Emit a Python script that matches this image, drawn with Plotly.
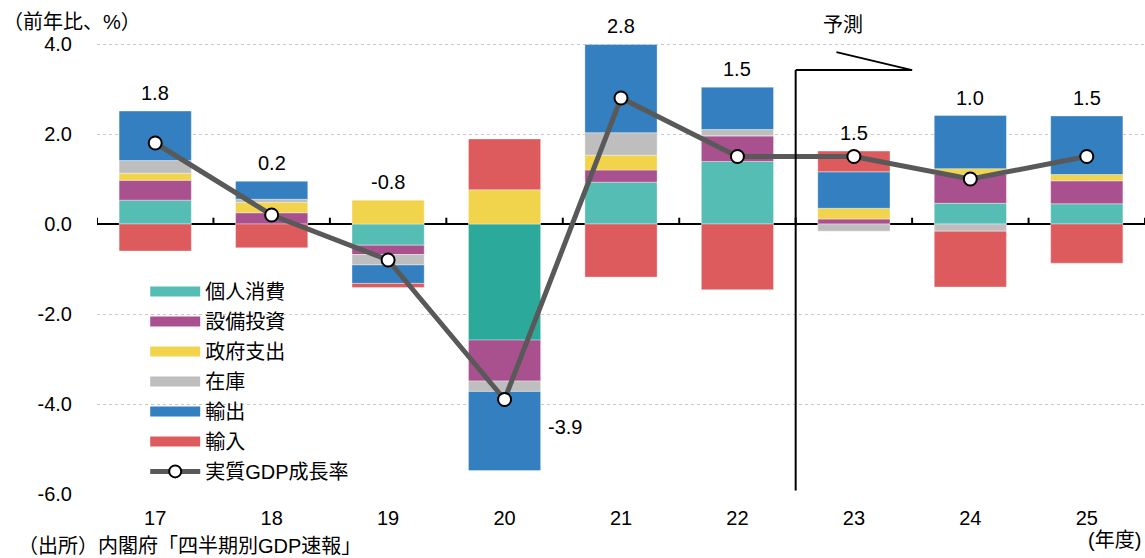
import plotly.graph_objects as go

years = ["17", "18", "19", "20", "21", "22", "23", "24", "25"]
consumption = [0.53, 0.0, -0.47, -2.58, 0.93, 1.39, 0.0, 0.46, 0.45]
investment = [0.44, 0.25, -0.21, -0.91, 0.27, 0.57, 0.11, 0.64, 0.51]
government = [0.16, 0.23, 0.53, 0.76, 0.33, 0.0, 0.24, 0.13, 0.14]
inventory = [0.28, 0.07, -0.23, -0.23, 0.50, 0.14, -0.16, -0.16, 0.0]
exports = [1.10, 0.40, -0.41, -1.76, 1.96, 0.94, 0.81, 1.18, 1.30]
imports = [-0.60, -0.53, -0.09, 1.13, -1.18, -1.46, 0.46, -1.24, -0.87]
gdp = [1.8, 0.2, -0.8, -3.9, 2.8, 1.5, 1.5, 1.0, 1.5]

y_tickvals = [4, 2, 0, -2, -4, -6]
y_ticktext = ["4.0", "2.0", "0.0", "-2.0", "-4.0", "-6.0"]

names = ["個人消費", "設備投資", "政府支出", "在庫", "輸出", "輸入"]
series = [consumption, investment, government, inventory, exports, imports]
colors = ["#55BDB4", "#A8518E", "#F2D34C", "#BEBEBE", "#337FBF", "#DD5B5C"]
consumption_colors = ["#2BAA9C" if y == "20" else colors[0] for y in years]

FONT = "Liberation Sans, Arial, Noto Sans CJK JP, sans-serif"
FS = 20

fig = go.Figure()

for i, (nm, vals, col) in enumerate(zip(names, series, colors)):
    mcol = consumption_colors if i == 0 else col
    fig.add_trace(go.Bar(
        x=years, y=vals, name=nm,
        marker=dict(color=mcol, line=dict(color="rgba(255,255,255,0.6)", width=0.6)),
        width=0.62, showlegend=False, hoverinfo="skip"))

fig.add_trace(go.Scatter(
    x=years, y=gdp, mode="lines+markers", name="実質GDP成長率",
    line=dict(color="#595959", width=5),
    marker=dict(size=13, color="white", line=dict(color="black", width=2)),
    showlegend=False))

# legend proxies
for i, (nm, col) in enumerate(zip(names, colors)):
    fig.add_trace(go.Scatter(x=[None], y=[None], mode="lines", name=nm,
                             line=dict(color=col, width=13), legendgroup=str(i)))
fig.add_trace(go.Scatter(x=[None], y=[None], mode="lines+markers", name="実質GDP成長率",
                         line=dict(color="#595959", width=5),
                         marker=dict(size=12, color="white", line=dict(color="black", width=2)),
                         legendgroup="gdp"))

# value labels
pos_top = [sum(max(s[k], 0) for s in series) for k in range(len(years))]
for k, (y, v) in enumerate(zip(years, gdp)):
    if y == "20":
        fig.add_annotation(x=k, y=v, text=f"{v:.1f}", showarrow=False, xanchor="left",
                           xshift=41, yshift=-27, font=dict(size=FS, family=FONT, color="black"))
    else:
        fig.add_annotation(x=k, y=pos_top[k], text=f"{v:.1f}", showarrow=False,
                           yanchor="bottom", yshift=5, font=dict(size=FS, family=FONT, color="black"))

# tick marks on zero line
for b in range(len(years) + 1):
    fig.add_shape(type="line", x0=b - 0.5, x1=b - 0.5, y0=0, y1=0.14,
                  line=dict(color="black", width=2), layer="above")

# forecast marker
fig.add_shape(type="line", x0=5.5, x1=5.5, y0=-5.92, y1=3.42, line=dict(color="black", width=2), layer="above")
fig.add_shape(type="line", x0=5.5, x1=6.5, y0=3.42, y1=3.42, line=dict(color="black", width=2), layer="above")
fig.add_shape(type="line", x0=5.85, x1=6.5, y0=3.82, y1=3.42, line=dict(color="black", width=2), layer="above")
fig.add_annotation(x=5.91, y=4.42, text="予測", showarrow=False, font=dict(size=FS, family=FONT, color="black"))

fig.add_annotation(xref="paper", yref="paper", x=-0.0915, y=0.971, xanchor="left", yanchor="middle",
                   text="（前年比、%）", showarrow=False, font=dict(size=FS, family=FONT, color="black"))
fig.add_annotation(xref="paper", yref="paper", x=-0.077, y=-0.107, xanchor="left", yanchor="middle",
                   text="（出所）内閣府「四半期別GDP速報」", showarrow=False, font=dict(size=FS, family=FONT, color="black"))
fig.add_annotation(xref="paper", yref="paper", x=0.998, y=-0.0947, xanchor="right", yanchor="middle",
                   text="(年度)", showarrow=False, font=dict(size=FS, family=FONT, color="black"))

fig.update_layout(
    width=1145, height=558,
    margin=dict(l=97, r=0, t=8, b=64),
    plot_bgcolor="white", paper_bgcolor="white",
    barmode="relative",
    font=dict(family=FONT, size=FS, color="black"),
    legend=dict(x=0.046, y=0.457, xanchor="left", yanchor="top", traceorder="grouped",
                tracegroupgap=1, bgcolor="rgba(0,0,0,0)", font=dict(size=FS), itemwidth=50),
    xaxis=dict(type="category", range=[-0.5, 8.5], showgrid=False, showline=False, automargin=False,
               ticks="outside", ticklen=6, tickcolor="white", tickfont=dict(size=FS)),
    yaxis=dict(range=[-6, 4.8], tickvals=y_tickvals, ticktext=y_ticktext, automargin=False,
               showgrid=True, gridcolor="#C8C8C8",
               griddash="dot", gridwidth=1, zeroline=True, zerolinecolor="black", zerolinewidth=2,
               ticks="outside", ticklen=20, tickcolor="white", tickfont=dict(size=FS)),
)

fig.write_html("out.html", config={"displayModeBar": False},
               post_script="document.body.style.margin='0';document.body.style.overflow='hidden';")
